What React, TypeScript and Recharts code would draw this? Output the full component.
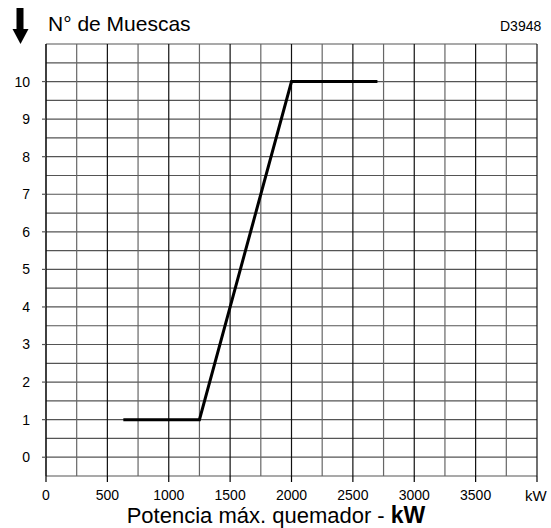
import { LineChart, Line, XAxis, YAxis, ReferenceLine } from 'recharts'

// potencia máx. quemador (kW) vs n° de muescas
const power = [630, 1250, 2000, 2700]
const notches = [1, 1, 10, 10]

const xTicks = [0, 500, 1000, 1500, 2000, 2500, 3000, 3500, 4000]
const yTicks = [0, 1, 2, 3, 4, 5, 6, 7, 8, 9, 10]
const xGrid = [0, 250, 500, 750, 1000, 1250, 1500, 1750, 2000, 2250, 2500, 2750, 3000, 3250, 3500, 3750, 4000]
const yGrid = [-0.5, 0, 0.5, 1, 1.5, 2, 2.5, 3, 3.5, 4, 4.5, 5, 5.5, 6, 6.5, 7, 7.5, 8, 8.5, 9, 9.5, 10, 10.5, 11]

const data = power.map((p, i) => ({ power: p, notches: notches[i] }))

const font = '"Liberation Sans", Arial, sans-serif'

const XTick = (props: any) => {
  const { x, y, payload } = props
  const last = payload.value === 4000
  return (
    <text
      x={last ? x - 12 : x}
      y={y}
      dy="0.71em"
      textAnchor={last ? 'start' : 'middle'}
      fontSize={last ? 15 : 14}
      fill="#000"
      fontFamily={font}
    >
      {last ? 'kW' : payload.value}
    </text>
  )
}

export default function App() {
  return (
    <div style={{ position: 'absolute', left: 0, top: 0, width: 551, height: 528, background: '#fff', fontFamily: font }}>
      <LineChart width={551} height={528} data={data} margin={{ top: 44, right: 14, bottom: 0, left: 0 }}>
        <XAxis
          type="number"
          dataKey="power"
          domain={[0, 4000]}
          ticks={xTicks}
          interval={0}
          height={52}
          axisLine={false}
          tickSize={6}
          tickMargin={8}
          tickLine={{ stroke: '#000', strokeWidth: 1.2 }}
          tick={<XTick />}
        />
        <YAxis
          type="number"
          domain={[-0.5, 11]}
          ticks={yTicks}
          interval={0}
          width={46}
          axisLine={false}
          tickSize={4}
          tickMargin={12}
          tickLine={{ stroke: '#555', strokeWidth: 1.2 }}
          tick={{ fontSize: 14, fill: '#000', fontFamily: font }}
        />
        {yGrid.map((v) => (
          <ReferenceLine key={'h' + v} y={v} stroke="#555" strokeWidth={1.2} />
        ))}
        {xGrid.map((v) => (
          <ReferenceLine
            key={'v' + v}
            x={v}
            stroke={v % 500 === 0 ? '#111' : '#666'}
            strokeWidth={v === 0 ? 1.6 : 1.2}
          />
        ))}
        <Line
          type="linear"
          dataKey="notches"
          stroke="#000"
          strokeWidth={3}
          dot={false}
          isAnimationActive={false}
        />
      </LineChart>
      <svg
        width={551}
        height={528}
        style={{ position: 'absolute', left: 0, top: 0, pointerEvents: 'none' }}
      >
        <rect x={16.5} y={8} width={7} height={22} fill="#000" />
        <polygon points="12.5,29 28.5,29 20.5,44" fill="#000" />
        <text x={48} y={31} fontSize={21} fontFamily={font} fill="#000">
          N° de Muescas
        </text>
        <text x={500} y={31} fontSize={14} fontFamily={font} fill="#000">
          D3948
        </text>
        <text x={276} y={523} fontSize={22} fontFamily={font} fill="#000" textAnchor="middle">
          Potencia máx. quemador -{' '}
          <tspan fontWeight="bold" fontSize={23}>kW</tspan>
        </text>
      </svg>
    </div>
  )
}
